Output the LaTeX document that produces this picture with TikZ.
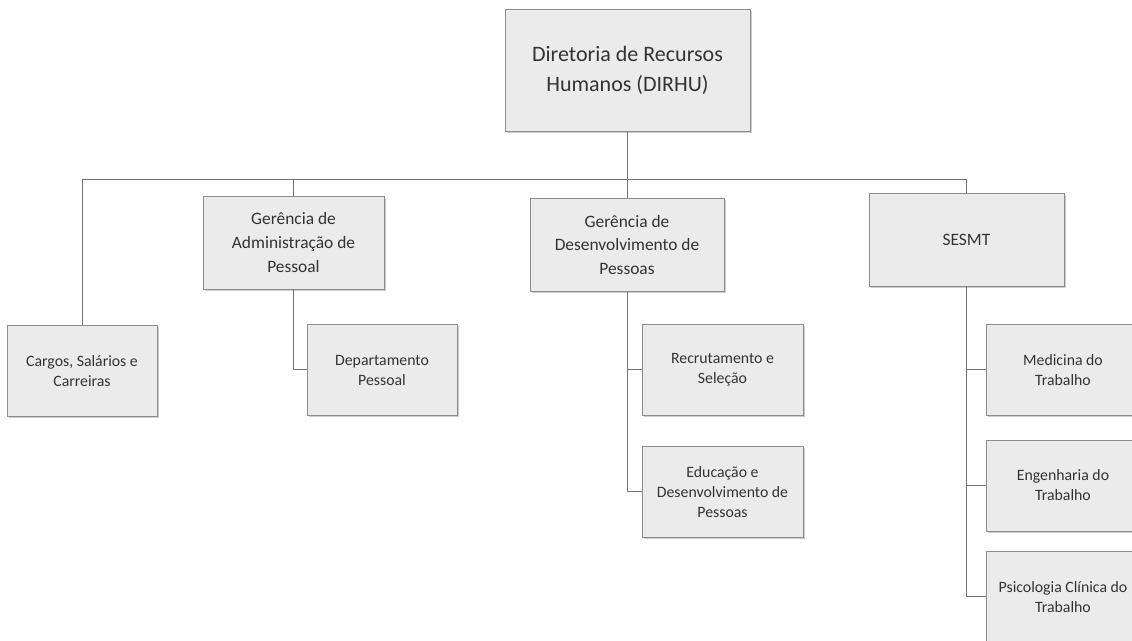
\documentclass[tikz,border=0pt]{standalone}
\usepackage{fontspec}
\setmainfont{Carlito}
\usetikzlibrary{shadows}

\begin{document}
\begin{tikzpicture}[x=0.5pt, y=-0.5pt,
  box/.style={shape=rectangle, draw=black!45, line width=0.4pt, fill=black!8, text=black!80, align=center, inner sep=0pt,
    drop shadow={shadow xshift=1pt, shadow yshift=-1pt, fill=black!40, opacity=0.5}},
  toplvl/.style={box, minimum width=122.5pt, minimum height=61pt, font=\fontsize{11}{15}\selectfont},
  midlvl/.style={box, minimum height=46.5pt, font=\fontsize{8.7}{11.8}\selectfont},
  lowlvl/.style={box, minimum height=45.5pt, font=\fontsize{7.9}{10}\selectfont},
  link/.style={draw=black!55, line width=0.5pt}]
\useasboundingbox (0,0) rectangle (1132,641);
\node[toplvl] (dirhu) at (627.5,70) {Diretoria de Recursos\\Humanos (DIRHU)};
\node[midlvl, minimum width=90.5pt] (admpes) at (293.5,242.5) {Gerência de\\Administração de\\Pessoal};
\node[midlvl, minimum width=97pt] (desenv) at (627,245) {Gerência de\\Desenvolvimento de\\Pessoas};
\node[midlvl, minimum width=97.5pt] (sesmt) at (966.5,239.5) {SESMT};
\node[lowlvl, minimum width=75pt] (cargos) at (82,371) {Cargos, Salários e\\Carreiras};
\node[lowlvl, minimum width=75pt] (deppes) at (382,370) {Departamento\\Pessoal};
\node[lowlvl, minimum width=80.5pt] (recsel) at (722.5,370) {Recrutamento e\\Seleção};
\node[lowlvl, minimum width=80.5pt] (edudes) at (722.5,492) {Educação e\\Desenvolvimento de\\Pessoas};
\node[lowlvl, minimum width=77pt] (medtra) at (1063,370) {Medicina do\\Trabalho};
\node[lowlvl, minimum width=77pt] (engtra) at (1063,485.5) {Engenharia do\\Trabalho};
\node[lowlvl, minimum width=77pt] (psitra) at (1063,597) {Psicologia Clínica do\\Trabalho};
\coordinate (busL) at (82,180);
\coordinate (busR) at (967,180);
\path[link] (busL) edge (busR);
\path[link] (dirhu.south) edge (dirhu.south |- busL);
\path[link] (cargos.north) edge (cargos.north |- busL);
\path[link] (admpes.north) edge (admpes.north |- busL);
\path[link] (desenv.north) edge (desenv.north |- busL);
\path[link] (sesmt.north) edge (sesmt.north |- busL);
\draw[link] (admpes.south) |- (deppes.west);
\draw[link] (desenv.south) |- (recsel.west);
\draw[link] (desenv.south) |- (edudes.west);
\draw[link] (sesmt.south) |- (medtra.west);
\draw[link] (sesmt.south) |- (engtra.west);
\draw[link] (sesmt.south) |- (psitra.west);
\end{tikzpicture}
\end{document}
